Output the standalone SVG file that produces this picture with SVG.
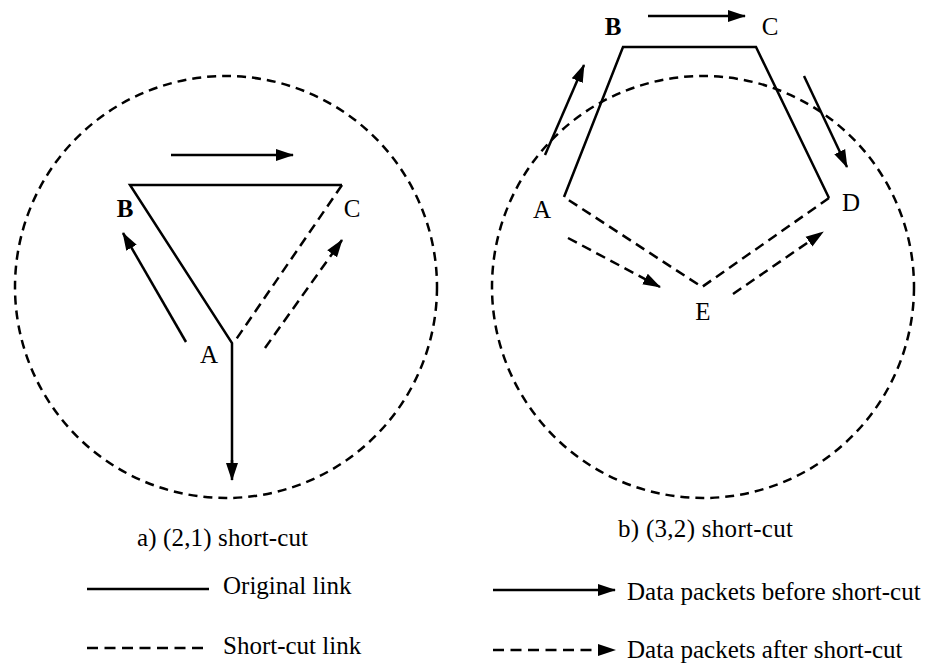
<svg xmlns="http://www.w3.org/2000/svg" width="929" height="664" viewBox="0 0 929 664">
<style>
.bg{fill:#fff}
.solid{fill:none;stroke:#000;stroke-width:2.5}
.dash{fill:none;stroke:#000;stroke-width:2.5;stroke-dasharray:10 6}
.circ{fill:none;stroke:#000;stroke-width:2.5;stroke-dasharray:9 6}
.arr{marker-end:url(#ah)}
.lbl{font-family:"Liberation Serif","Times New Roman",serif;font-size:25px;fill:#000;text-anchor:middle}
.bold{font-weight:bold}
.txt{font-family:"Liberation Serif","Times New Roman",serif;font-size:25px;fill:#000}
</style>
<defs>
<marker id="ah" markerUnits="userSpaceOnUse" markerWidth="18" markerHeight="14" viewBox="0 0 18 14" refX="17" refY="7" orient="auto">
<path d="M0,1 L18,7 L0,13 z" fill="#000"/>
</marker>
</defs>
<rect class="bg" x="0" y="0" width="929" height="664"/>

<g id="diagram-a">
<circle id="range-a" class="circ" cx="226" cy="287" r="211"/>
<g id="node-a-B"><text class="lbl bold" x="125" y="217">B</text></g>
<g id="node-a-C"><text class="lbl" x="352" y="217">C</text></g>
<g id="node-a-A"><text class="lbl" x="209" y="363">A</text></g>
</g>

<g id="diagram-b">
<circle id="range-b" class="circ" cx="703" cy="287" r="211"/>
<g id="node-b-B"><text class="lbl bold" x="613" y="35">B</text></g>
<g id="node-b-C"><text class="lbl" x="770" y="35">C</text></g>
<g id="node-b-D"><text class="lbl" x="851" y="211">D</text></g>
<g id="node-b-A"><text class="lbl" x="542" y="218">A</text></g>
<g id="node-b-E"><text class="lbl" x="703" y="320">E</text></g>
</g>

<g id="connectors">
<!-- diagram a links -->
<polyline class="solid" points="342,185 130,185 232,343 232,470"/>
<line class="dash" x1="342" y1="185" x2="235" y2="341"/>
<!-- diagram a packet arrows -->
<line class="solid arr" x1="171" y1="155" x2="293" y2="155"/>
<line class="solid arr" x1="232" y1="460" x2="232" y2="480"/>
<line class="solid arr" x1="186" y1="342" x2="123" y2="233"/>
<line class="dash arr" x1="265" y1="348" x2="342" y2="240"/>

<!-- diagram b links -->
<polyline class="solid" points="564,197 623,47 756,47 829,198"/>
<polyline class="dash" points="829,198 702,287 564,197"/>
<!-- diagram b packet arrows -->
<line class="solid arr" x1="648" y1="16" x2="745" y2="16"/>
<line class="solid arr" x1="545" y1="155" x2="584" y2="65"/>
<line class="solid arr" x1="804" y1="76" x2="847" y2="167"/>
<line class="dash arr" x1="568" y1="238" x2="660" y2="287"/>
<line class="dash arr" x1="733" y1="294" x2="823" y2="232"/>
</g>

<g id="captions">
<text class="txt" x="137" y="546" textLength="171">a) (2,1) short-cut</text>
<text class="txt" x="618" y="537" textLength="175">b) (3,2) short-cut</text>
</g>

<g id="legend">
<line class="solid" x1="87" y1="589" x2="209" y2="589"/>
<text class="txt" x="223" y="594">Original link</text>
<line class="solid arr" x1="493" y1="590" x2="615" y2="590"/>
<text class="txt" x="627" y="600">Data packets before short-cut</text>
<line class="dash" x1="87" y1="648" x2="208" y2="648" style="stroke-dasharray:11 6.5"/>
<text class="txt" x="223" y="654">Short-cut link</text>
<line class="dash arr" x1="493" y1="650" x2="615" y2="650" style="stroke-dasharray:11 6.5"/>
<text class="txt" x="627" y="658">Data packets after short-cut</text>
</g>
</svg>
